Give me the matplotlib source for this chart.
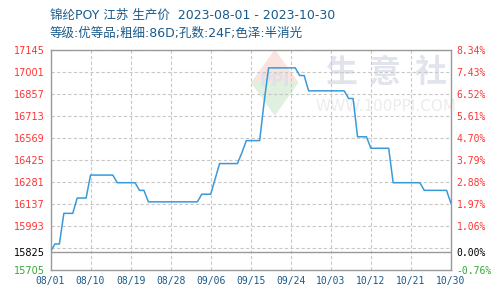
import matplotlib
matplotlib.use("Agg")
import matplotlib.pyplot as plt
from matplotlib.patches import Polygon

plt.rcParams['font.family'] = ['Noto Sans CJK SC', 'DejaVu Sans']

title1 = "锦纶POY 江苏 生产价  2023-08-01 - 2023-10-30"
title2 = "等级:优等品;粗细:86D;孔数:24F;色泽:半消光"

# daily values, day 0 = 08/01
prices = [
    15825, 15875, 15875, 16075, 16075, 16075, 16175, 16175, 16175, 16325,
    16325, 16325, 16325, 16325, 16325, 16275, 16275, 16275, 16275, 16275,
    16225, 16225, 16150, 16150, 16150, 16150, 16150, 16150, 16150, 16150,
    16150, 16150, 16150, 16150, 16200, 16200, 16200, 16300, 16400, 16400,
    16400, 16400, 16400, 16470, 16550, 16550, 16550, 16550, 16800, 17025,
    17025, 17025, 17025, 17025, 17025, 17025, 16975, 16975, 16875, 16875,
    16875, 16875, 16875, 16875, 16875, 16875, 16875, 16825, 16825, 16575,
    16575, 16575, 16500, 16500, 16500, 16500, 16500, 16275, 16275, 16275,
    16275, 16275, 16275, 16275, 16225, 16225, 16225, 16225, 16225, 16225,
    16140,
]
base = 15825
y_ticks = [15705, 15825, 15993, 16137, 16281, 16425, 16569, 16713, 16857, 17001, 17145]
pct_labels = ["-0.76%", "0.00%", "1.06%", "1.97%", "2.88%", "3.79%", "4.70%", "5.61%", "6.52%", "7.43%", "8.34%"]
x_labels = ["08/01", "08/10", "08/19", "08/28", "09/06", "09/15", "09/24", "10/03", "10/12", "10/21", "10/30"]

fig = plt.figure(figsize=(5, 3), dpi=100)
ax = fig.add_axes([0.101, 0.1, 0.801, 0.735])
days = list(range(len(prices)))
ymin, ymax = 15705, 17145
ax.set_xlim(0, 90)
ax.set_ylim(ymin, ymax)

# grid
for v in range(15849, 17146, 144):
    ax.axhline(v, color="#c8c8c8", lw=0.8, ls=(0, (3, 2)), zorder=1)
for i in range(1, len(x_labels) - 1):
    ax.axvline(i * 9, color="#c8c8c8", lw=0.8, ls=(0, (3, 2)), zorder=1)
ax.axhline(base, color="#999999", lw=1.0, zorder=2)

# watermark
for ch, xc in zip("生意社", [0.725, 0.834, 0.95]):
    ax.text(xc, 0.895, ch, transform=ax.transAxes, fontsize=23, color="#e1e4ec",
            ha="center", va="center", fontweight="bold", zorder=0)
ax.text(0.838, 0.74, "WWW.100PPI.COM", transform=ax.transAxes, fontsize=11, color="#ececec",
        ha="center", va="center", family="DejaVu Sans", zorder=0)
dia_top = Polygon([[0.503, 0.85], [0.56, 0.995], [0.617, 0.85]], closed=True,
                  transform=ax.transAxes, color="#fbe3df", zorder=0)
dia_bot = Polygon([[0.503, 0.85], [0.56, 0.705], [0.617, 0.85]], closed=True,
                  transform=ax.transAxes, color="#dff0df", zorder=0)
ax.add_patch(dia_top)
ax.add_patch(dia_bot)
ax.text(0.56, 0.855, "PPI", transform=ax.transAxes, fontsize=12, color="#dde1ea",
        ha="center", va="center", fontweight="bold", family="DejaVu Sans", zorder=0)

ax.plot(days, prices, color="#3a9ad9", lw=1.1, zorder=3)

for s in ax.spines.values():
    s.set_color("#999999")
    s.set_linewidth(1.0)

ax.set_yticks(y_ticks)
ax.set_yticklabels([str(v) for v in y_ticks], fontsize=7, family="DejaVu Sans")
ax.tick_params(axis="both", length=0, pad=4)
for lab, v in zip(ax.get_yticklabels(), y_ticks):
    lab.set_color("#ff3333" if v > base else ("#000000" if v == base else "#33aa33"))

ax.set_xticks([i * 9 for i in range(len(x_labels))])
ax.set_xticklabels(x_labels, fontsize=7, family="DejaVu Sans Mono", color="#1a5a8a")

ax2 = ax.twinx()
ax2.set_ylim(ymin, ymax)
ax2.set_yticks(y_ticks)
ax2.set_yticklabels(pct_labels, fontsize=7, family="DejaVu Sans Mono")
ax2.tick_params(axis="y", length=0, pad=4)
for lab, v in zip(ax2.get_yticklabels(), y_ticks):
    lab.set_color("#ff3333" if v > base else ("#000000" if v == base else "#33aa33"))
for s in ax2.spines.values():
    s.set_visible(False)

tfam = ['DejaVu Sans', 'Noto Sans CJK SC']
fig.text(0.1, 0.948, title1, fontsize=9, color="#1a5a8a", va="center", ha="left", family=tfam)
fig.text(0.1, 0.888, title2, fontsize=9, color="#1a5a8a", va="center", ha="left", family=tfam)

fig.savefig("out.png", dpi=100)
